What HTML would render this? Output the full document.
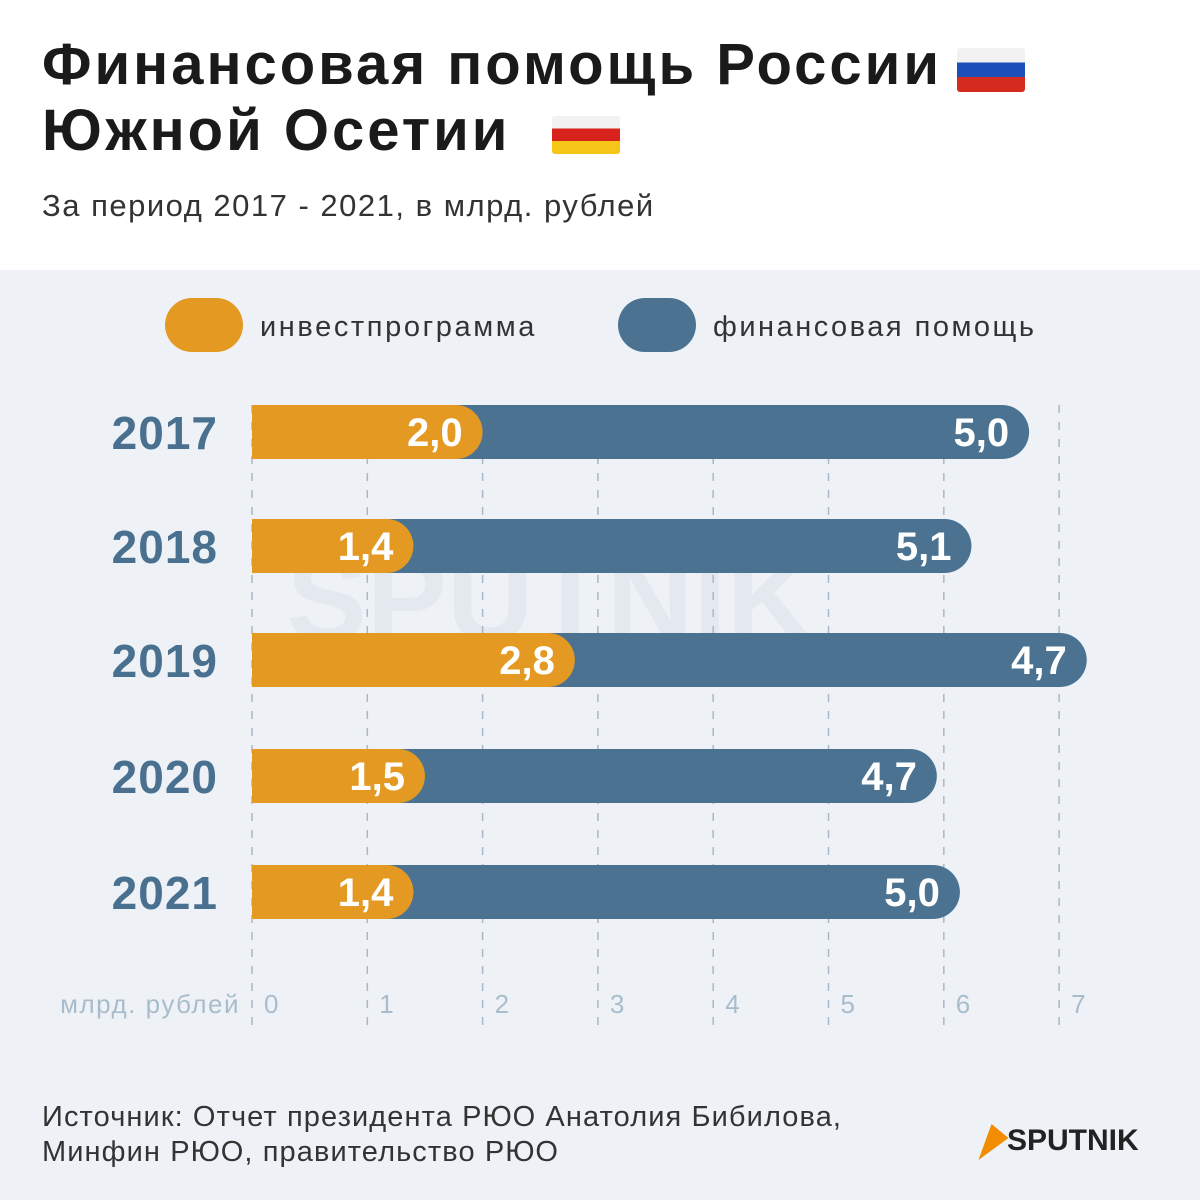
<!DOCTYPE html>
<html><head><meta charset="utf-8">
<style>
body{margin:0;width:1200px;height:1200px;overflow:hidden;background:#fff;font-family:"Liberation Sans","DejaVu Sans",sans-serif;}
#root{position:relative;width:1200px;height:1200px;}
.t{position:absolute;white-space:nowrap;}
</style></head>
<body>
<div id="root">
<div class="t" style="left:42px;top:32px;font-size:58px;letter-spacing:3px;font-weight:bold;color:#1a1a1a;line-height:66px;">Финансовая помощь России<br>Южной Осетии</div>
<div style="position:absolute;left:957px;top:48px;width:68px;height:44px;background:linear-gradient(#f2f2f2 0 33%,#1c4fb8 33% 66%,#d52b1e 66%);border-radius:3px;"></div>
<div style="position:absolute;left:552px;top:116px;width:68px;height:38px;background:linear-gradient(#f2f2f2 0 33%,#d8231c 33% 66%,#f5c518 66%);border-radius:3px;"></div>
<div class="t" style="left:42px;top:188px;font-size:31px;letter-spacing:1.5px;color:#333;">За период 2017 - 2021, в млрд. рублей</div>
<svg id="chart" width="1200" height="930" style="position:absolute;left:0;top:270px;" xmlns="http://www.w3.org/2000/svg">
<rect x="0" y="0" width="1200" height="930" fill="#eef2f7"/>
<text x="550" y="370" font-size="120" font-weight="bold" fill="#e4e9ef" text-anchor="middle" font-family="Liberation Sans">SPUTNIK</text>
<g>
<rect x="165" y="28" width="78" height="54" rx="27" fill="#e49a22"/>
<text x="260" y="66" font-size="29" letter-spacing="2.6" fill="#333">инвестпрограмма</text>
<rect x="618" y="28" width="78" height="54" rx="27" fill="#4b7391"/>
<text x="713" y="66" font-size="29" letter-spacing="2.5" fill="#333">финансовая помощь</text>
</g>
<g id="grid"></g>
<g id="bars"></g>
<g id="axis"></g>
</svg>
<div class="t" style="left:42px;top:1100px;font-size:29px;letter-spacing:1.1px;color:#333;line-height:35px;">Источник: Отчет президента РЮО Анатолия Бибилова,<br>Минфин РЮО, правительство РЮО</div>
<div class="t" style="left:985px;top:1124px;font-size:30px;font-weight:bold;color:#222;">
<span style="display:inline-block;width:0;height:0;border-left:22px solid #f28c00;border-top:14px solid transparent;border-bottom:22px solid transparent;vertical-align:middle;transform:skewX(-20deg);"></span>SPUTNIK</div>
</div>
<script>
const years=["2017","2018","2019","2020","2021"];
const invest=[2.0,1.4,2.8,1.5,1.4];
const aid=[5.0,5.1,4.7,4.7,5.0];
const ticks=[0,1,2,3,4,5,6,7];
const NS="http://www.w3.org/2000/svg";
const x0=252, unit=115.3;
function xs(v){return x0+v*unit;}
const rowTop=[135,249,363,479,595];
const barH=54;
function mk(tag,attrs,parent){const e=document.createElementNS(NS,tag);for(const k in attrs)e.setAttribute(k,attrs[k]);parent.appendChild(e);return e;}
const grid=document.getElementById('grid'),bars=document.getElementById('bars'),axis=document.getElementById('axis');
ticks.forEach(t=>{
  const l=mk('line',{x1:xs(t),x2:xs(t),y1:135,y2:755,stroke:'#aab7c6','stroke-width':1.5,'stroke-dasharray':'8 9'},grid);
  
  
  const tx=mk('text',{x:xs(t)+12,y:743,'font-size':26,fill:'#a9bccc'},axis);
  tx.textContent=t;
  
  
});
const ul=mk('text',{x:240,y:743,'font-size':26,'letter-spacing':1.5,fill:'#a9bccc','text-anchor':'end'},axis);
ul.textContent='млрд. рублей';


function pill(x,y,w,h){
  const r=h/2;
  return `M${x},${y} H${x+w-r} A${r},${r} 0 0 1 ${x+w-r},${y+h} H${x} Z`;
}
years.forEach((yr,i)=>{
  const y=rowTop[i];
  const ye=mk('text',{x:218,y:y+44,'font-size':46,'letter-spacing':1,'font-weight':'bold',fill:'#4a7090','text-anchor':'end'},bars);
  ye.textContent=yr;
  
  
  const iEnd=xs(invest[i]);
  const aEnd=xs(invest[i]+aid[i])-30;
  const b=mk('path',{d:pill(x0,y,aEnd-x0,barH),fill:'#4b7391'},bars);
  
  
  const o=mk('path',{d:pill(x0,y,iEnd-x0,barH),fill:'#e49a22'},bars);
  
  
  const ot=mk('text',{x:iEnd-20,y:y+41,'font-size':40,'font-weight':'bold',fill:'#fff','text-anchor':'end'},bars);
  ot.textContent=invest[i].toFixed(1).replace('.',',');
  
  
  const at=mk('text',{x:aEnd-20,y:y+41,'font-size':40,'font-weight':'bold',fill:'#fff','text-anchor':'end'},bars);
  at.textContent=aid[i].toFixed(1).replace('.',',');
  
  
});
</script>
</body></html>
